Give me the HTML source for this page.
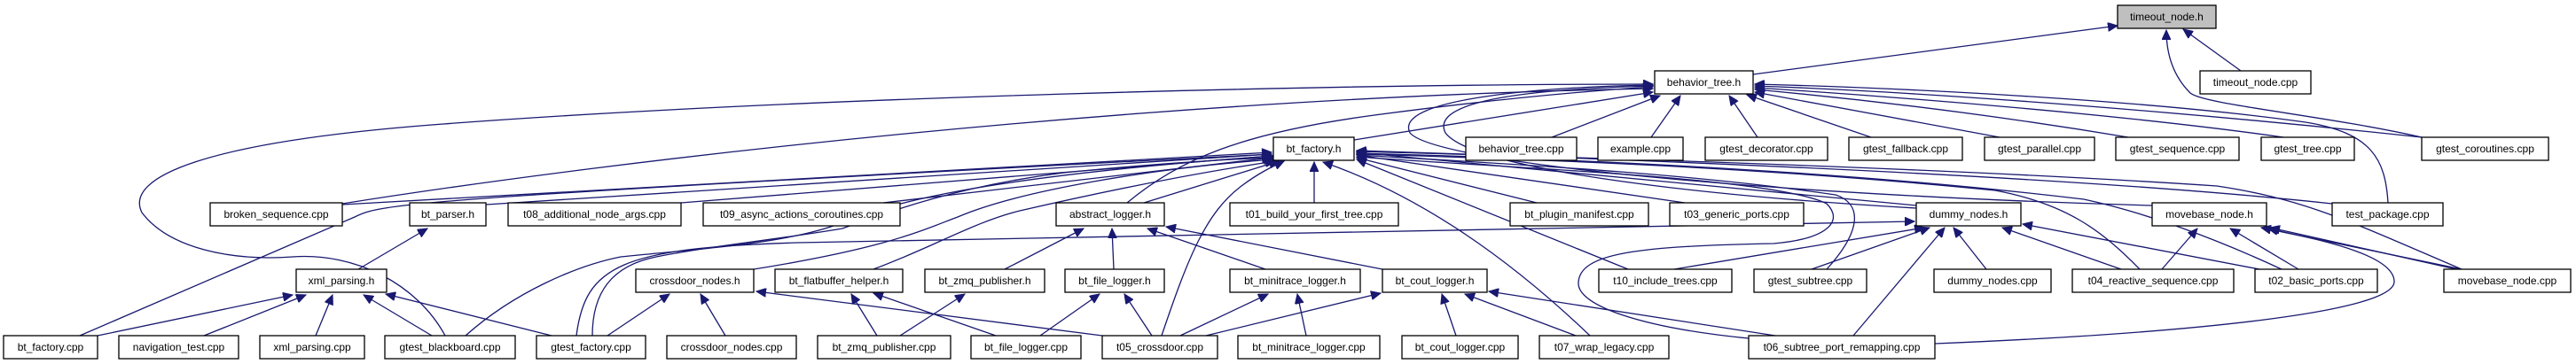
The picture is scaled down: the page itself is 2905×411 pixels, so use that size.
<!DOCTYPE html>
<html><head><meta charset="utf-8"><style>
html,body{margin:0;padding:0;background:#fff;}
svg{display:block;}
text{font-family:"Liberation Sans",sans-serif;font-size:12px;fill:#000;}
.b{fill:#fff;stroke:#000;stroke-width:1.3;}
.e{fill:none;stroke:#191970;stroke-width:1.3;marker-end:url(#a);}
</style></head><body>
<svg width="2905" height="411" viewBox="0 0 2905 411" xmlns="http://www.w3.org/2000/svg">
<defs><marker id="a" markerUnits="userSpaceOnUse" markerWidth="12" markerHeight="10" refX="11" refY="5" orient="auto"><path d="M0,0 L11,5 L0,10 z" fill="#191970" stroke="#191970"/></marker></defs>
<g>
<!-- to timeout_node.h -->
<path class="e" d="M1977,84 L2388,29"/>
<path class="e" d="M2527,80 L2462,33"/>
<path class="e" d="M2731,155 C2620,130 2485,118 2470,105 C2450,85 2443,60 2443,34"/>
<!-- to behavior_tree.h -->
<path class="e" d="M2693,229 C2690,180 2675,150 2600,138 C2400,110 2100,98 1979,95"/>
<path class="e" d="M2731,155 C2500,130 2200,105 1979,97"/>
<path class="e" d="M2575,155 C2400,130 2150,110 1979,99"/>
<path class="e" d="M2400,155 C2250,130 2100,112 1979,101"/>
<path class="e" d="M2255,155 C2150,135 2050,118 1979,104"/>
<path class="e" d="M2110,155 L1970,107"/>
<path class="e" d="M1982,155 L1950,108"/>
<path class="e" d="M1862,155 L1895,108"/>
<path class="e" d="M1750,155 L1872,108"/>
<path class="e" d="M1527,158 L1864,104"/>
<path class="e" d="M386,230 C700,180 1300,110 1864,100"/>
<path class="e" d="M502,379 C470,320 400,285 330,290 C260,295 190,280 160,240 C140,200 230,160 500,140 C900,110 1500,95 1864,95"/>
<path class="e" d="M1271,229 C1330,180 1400,150 1550,130 C1700,110 1800,102 1864,98"/>
<path class="e" d="M2161,235 C1900,220 1660,190 1630,150 C1610,110 1750,100 1864,97"/>
<path class="e" d="M2427,232 C2000,220 1620,185 1590,150 C1570,110 1750,98 1864,96"/>
<!-- to bt_factory.h -->
<path class="e" d="M386,231 L1434,172"/>
<path class="e" d="M90,379 L400,245 C430,230 450,225 1434,174"/>
<path class="e" d="M548,231 L1434,174"/>
<path class="e" d="M768,229 L1434,176"/>
<path class="e" d="M996,229 L1434,178"/>
<path class="e" d="M850,304 C1000,280 1040,260 1080,245 C1150,215 1300,190 1436,180"/>
<path class="e" d="M985,304 C1050,280 1100,250 1150,238 C1250,215 1350,195 1438,182"/>
<path class="e" d="M668,379 C668,330 690,300 740,290 C800,278 880,270 950,258 C1000,240 1080,210 1200,195 C1300,185 1380,180 1436,178"/>
<path class="e" d="M525,379 C580,330 650,300 700,290 C800,280 880,275 940,255 C1000,230 1100,200 1436,176"/>
<path class="e" d="M1290,229 L1442,182"/>
<path class="e" d="M1310,379 C1340,290 1360,240 1400,210 C1420,195 1435,188 1448,182"/>
<path class="e" d="M1482,229 L1482,183"/>
<path class="e" d="M1793,379 C1700,290 1600,220 1492,183"/>
<path class="e" d="M1836,304 L1530,180"/>
<path class="e" d="M1733,229 L1530,178"/>
<path class="e" d="M1900,229 L1530,175"/>
<path class="e" d="M2161,232 L1530,172"/>
<path class="e" d="M2060,304 C2100,260 2100,230 2070,220 C1900,195 1700,185 1530,175"/>
<path class="e" d="M1972,382 C1850,370 1780,345 1780,320 C1780,285 1850,278 2000,275 C2060,270 2080,250 2060,230 C2000,200 1700,190 1530,177"/>
<path class="e" d="M2413,304 C2370,260 2330,230 2250,215 C2000,190 1750,180 1530,174"/>
<path class="e" d="M2573,304 C2500,270 2420,240 2350,225 C2100,195 1800,180 1530,173"/>
<path class="e" d="M2776,304 C2650,250 2600,225 2500,210 C2200,190 1800,178 1530,171"/>
<path class="e" d="M2630,230 C2400,205 2000,185 1530,170"/>
<!-- xml_parsing.h -->
<path class="e" d="M110,379 L330,333"/>
<path class="e" d="M230,379 L345,333"/>
<path class="e" d="M356,379 L375,333"/>
<path class="e" d="M487,379 L410,333"/>
<path class="e" d="M622,379 L435,332"/>
<path class="e" d="M404,304 L482,258"/>
<!-- crossdoor_nodes.h -->
<path class="e" d="M685,379 L755,332"/>
<path class="e" d="M818,379 L790,332"/>
<path class="e" d="M1243,379 L853,329"/>
<!-- flatbuffer -->
<path class="e" d="M989,379 L960,332"/>
<path class="e" d="M1123,379 L985,331"/>
<path class="e" d="M1015,379 L1088,332"/>
<path class="e" d="M1173,379 L1240,332"/>
<path class="e" d="M1299,379 L1268,332"/>
<!-- abstract_logger.h -->
<path class="e" d="M1133,304 L1222,258"/>
<path class="e" d="M1256,304 L1254,258"/>
<path class="e" d="M1427,304 L1294,258"/>
<path class="e" d="M1559,304 L1315,256"/>
<!-- minitrace / cout -->
<path class="e" d="M1473,379 L1463,332"/>
<path class="e" d="M1331,379 L1430,332"/>
<path class="e" d="M1360,379 L1557,331"/>
<path class="e" d="M1642,379 L1626,332"/>
<path class="e" d="M1777,379 L1652,332"/>
<path class="e" d="M2002,379 L1679,329"/>
<!-- dummy_nodes.h -->
<path class="e" d="M650,379 C660,300 700,280 900,274 L2159,250"/>
<path class="e" d="M1888,304 L2170,257"/>
<path class="e" d="M2043,304 L2176,257"/>
<path class="e" d="M2240,304 L2203,257"/>
<path class="e" d="M2392,304 L2258,257"/>
<path class="e" d="M2548,304 L2281,253"/>
<path class="e" d="M2090,379 L2193,257"/>
<!-- movebase_node.h -->
<path class="e" d="M2438,304 L2478,258"/>
<path class="e" d="M2592,304 L2515,258"/>
<path class="e" d="M2776,304 L2550,257"/>
<path class="e" d="M2770,304 L2560,257"/>
<path class="e" d="M2182,388 C2500,375 2700,350 2700,318 C2700,285 2600,268 2558,258"/>
</g>
<g>
<rect class="b" x="2388" y="6" width="111" height="26" style="fill:#bfbfbf"/><text x="2443.5" y="23" text-anchor="middle">timeout_node.h</text>
<rect class="b" x="1866" y="80" width="111" height="26"/><text x="1921.5" y="97" text-anchor="middle">behavior_tree.h</text>
<rect class="b" x="2481" y="80" width="125" height="26"/><text x="2543.5" y="97" text-anchor="middle">timeout_node.cpp</text>

<rect class="b" x="1436" y="155" width="91" height="26"/><text x="1481.5" y="172" text-anchor="middle">bt_factory.h</text>
<rect class="b" x="1653" y="155" width="125" height="26"/><text x="1715.5" y="172" text-anchor="middle">behavior_tree.cpp</text>
<rect class="b" x="1802" y="155" width="96" height="26"/><text x="1850" y="172" text-anchor="middle">example.cpp</text>
<rect class="b" x="1923" y="155" width="138" height="26"/><text x="1992" y="172" text-anchor="middle">gtest_decorator.cpp</text>
<rect class="b" x="2085" y="155" width="128" height="26"/><text x="2149" y="172" text-anchor="middle">gtest_fallback.cpp</text>
<rect class="b" x="2238" y="155" width="124" height="26"/><text x="2300" y="172" text-anchor="middle">gtest_parallel.cpp</text>
<rect class="b" x="2386" y="155" width="139" height="26"/><text x="2455.5" y="172" text-anchor="middle">gtest_sequence.cpp</text>
<rect class="b" x="2550" y="155" width="105" height="26"/><text x="2602.5" y="172" text-anchor="middle">gtest_tree.cpp</text>
<rect class="b" x="2731" y="155" width="143" height="26"/><text x="2802.5" y="172" text-anchor="middle">gtest_coroutines.cpp</text>

<rect class="b" x="237" y="229" width="149" height="26"/><text x="311.5" y="246" text-anchor="middle">broken_sequence.cpp</text>
<rect class="b" x="462" y="229" width="86" height="26"/><text x="505" y="246" text-anchor="middle">bt_parser.h</text>
<rect class="b" x="573" y="229" width="195" height="26"/><text x="670.5" y="246" text-anchor="middle">t08_additional_node_args.cpp</text>
<rect class="b" x="793" y="229" width="222" height="26"/><text x="904" y="246" text-anchor="middle">t09_async_actions_coroutines.cpp</text>
<rect class="b" x="1191" y="229" width="122" height="26"/><text x="1252" y="246" text-anchor="middle">abstract_logger.h</text>
<rect class="b" x="1387" y="229" width="190" height="26"/><text x="1482" y="246" text-anchor="middle">t01_build_your_first_tree.cpp</text>
<rect class="b" x="1703" y="229" width="156" height="26"/><text x="1781" y="246" text-anchor="middle">bt_plugin_manifest.cpp</text>
<rect class="b" x="1883" y="229" width="151" height="26"/><text x="1958.5" y="246" text-anchor="middle">t03_generic_ports.cpp</text>
<rect class="b" x="2161" y="229" width="118" height="26"/><text x="2220" y="246" text-anchor="middle">dummy_nodes.h</text>
<rect class="b" x="2427" y="229" width="129" height="26"/><text x="2491.5" y="246" text-anchor="middle">movebase_node.h</text>
<rect class="b" x="2630" y="229" width="125" height="26"/><text x="2692.5" y="246" text-anchor="middle">test_package.cpp</text>

<rect class="b" x="334" y="304" width="102" height="26"/><text x="385" y="321" text-anchor="middle">xml_parsing.h</text>
<rect class="b" x="717" y="304" width="133" height="26"/><text x="783.5" y="321" text-anchor="middle">crossdoor_nodes.h</text>
<rect class="b" x="874" y="304" width="144" height="26"/><text x="946" y="321" text-anchor="middle">bt_flatbuffer_helper.h</text>
<rect class="b" x="1043" y="304" width="135" height="26"/><text x="1110.5" y="321" text-anchor="middle">bt_zmq_publisher.h</text>
<rect class="b" x="1201" y="304" width="112" height="26"/><text x="1257" y="321" text-anchor="middle">bt_file_logger.h</text>
<rect class="b" x="1387" y="304" width="147" height="26"/><text x="1460.5" y="321" text-anchor="middle">bt_minitrace_logger.h</text>
<rect class="b" x="1559" y="304" width="118" height="26"/><text x="1618" y="321" text-anchor="middle">bt_cout_logger.h</text>
<rect class="b" x="1803" y="304" width="150" height="26"/><text x="1878" y="321" text-anchor="middle">t10_include_trees.cpp</text>
<rect class="b" x="1978" y="304" width="127" height="26"/><text x="2041.5" y="321" text-anchor="middle">gtest_subtree.cpp</text>
<rect class="b" x="2181" y="304" width="132" height="26"/><text x="2247" y="321" text-anchor="middle">dummy_nodes.cpp</text>
<rect class="b" x="2337" y="304" width="182" height="26"/><text x="2428" y="321" text-anchor="middle">t04_reactive_sequence.cpp</text>
<rect class="b" x="2543" y="304" width="138" height="26"/><text x="2612" y="321" text-anchor="middle">t02_basic_ports.cpp</text>
<rect class="b" x="2756" y="304" width="143" height="26"/><text x="2827.5" y="321" text-anchor="middle">movebase_node.cpp</text>

<rect class="b" x="4" y="379" width="106" height="26"/><text x="57" y="396" text-anchor="middle">bt_factory.cpp</text>
<rect class="b" x="134" y="379" width="135" height="26"/><text x="201.5" y="396" text-anchor="middle">navigation_test.cpp</text>
<rect class="b" x="293" y="379" width="118" height="26"/><text x="352" y="396" text-anchor="middle">xml_parsing.cpp</text>
<rect class="b" x="434" y="379" width="147" height="26"/><text x="507.5" y="396" text-anchor="middle">gtest_blackboard.cpp</text>
<rect class="b" x="605" y="379" width="123" height="26"/><text x="666.5" y="396" text-anchor="middle">gtest_factory.cpp</text>
<rect class="b" x="752" y="379" width="146" height="26"/><text x="825" y="396" text-anchor="middle">crossdoor_nodes.cpp</text>
<rect class="b" x="922" y="379" width="150" height="26"/><text x="997" y="396" text-anchor="middle">bt_zmq_publisher.cpp</text>
<rect class="b" x="1095" y="379" width="124" height="26"/><text x="1157" y="396" text-anchor="middle">bt_file_logger.cpp</text>
<rect class="b" x="1243" y="379" width="130" height="26"/><text x="1308" y="396" text-anchor="middle">t05_crossdoor.cpp</text>
<rect class="b" x="1396" y="379" width="160" height="26"/><text x="1476" y="396" text-anchor="middle">bt_minitrace_logger.cpp</text>
<rect class="b" x="1581" y="379" width="131" height="26"/><text x="1646.5" y="396" text-anchor="middle">bt_cout_logger.cpp</text>
<rect class="b" x="1736" y="379" width="146" height="26"/><text x="1809" y="396" text-anchor="middle">t07_wrap_legacy.cpp</text>
<rect class="b" x="1972" y="379" width="210" height="26"/><text x="2077" y="396" text-anchor="middle">t06_subtree_port_remapping.cpp</text>
</g>
</svg>
</body></html>
